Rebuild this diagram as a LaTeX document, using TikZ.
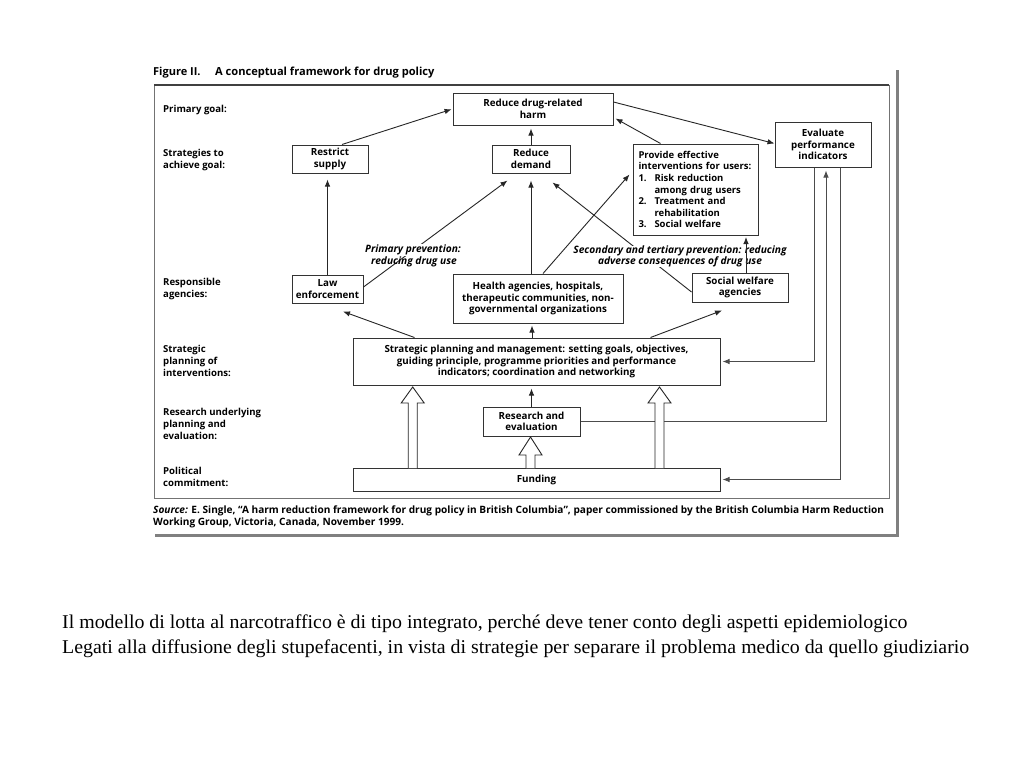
\documentclass[tikz,border=0pt]{standalone}
\usepackage{fontspec}
\setmainfont{Liberation Serif}
\newfontfamily\dfont{Open Sans}
\usetikzlibrary{arrows.meta,calc}
\newcommand\hollowup[4]{%
  \draw[line width=0.9pt,draw=black!85,fill=white] (#1-4.5,#2) -- (#1-4.5,#3) -- (#1-11.5,#3) -- (#1,#4) -- (#1+11.5,#3) -- (#1+4.5,#3) -- (#1+4.5,#2);}
\begin{document}
\begin{tikzpicture}[x=1pt,y=-1pt,
  dtext/.style={font=\dfont\bfseries\fontsize{9.8}{11.6}\selectfont},
  box/.style={dtext,draw=black!80,line width=1pt,inner sep=0pt,align=center},
  conn/.style={draw=black!85,line width=0.9pt,-{Latex[length=7pt,width=5.5pt]}},
  fb/.style={draw=black!70,line width=0.9pt,-{Latex[length=7pt,width=5.5pt]}},
  lbl/.style={font=\dfont\bfseries\fontsize{9.6}{11.6}\selectfont,anchor=west,align=left,inner sep=0pt},
  ital/.style={font=\dfont\bfseries\itshape\fontsize{10.2}{11.6}\selectfont,inner sep=0.5pt},
]
\useasboundingbox (0,0) rectangle (1024,768);
\fill[white] (0,0) rectangle (1024,768);

% frame and shadow
\draw[black!55,line width=0.8pt] (154,85) rectangle (889,498);
\draw[black!75,line width=1.6pt] (154,85) -- (889,85);
\draw[black!50,line width=3pt] (897,70) -- (897,535.5) -- (155,535.5);

% title
\node[anchor=west,inner sep=0pt,font=\dfont\bfseries\fontsize{11}{12}\selectfont] (fig) at (153,73) {Figure II.};
\node[anchor=west,inner sep=0pt,font=\dfont\bfseries\fontsize{11.1}{12}\selectfont] (title) at (215,73) {A conceptual framework for drug policy};

% row labels
\node[lbl] (l1) at (163,110) {Primary goal:};
\node[lbl] (l2) at (163,160) {Strategies to\\achieve goal:};
\node[lbl] (l3) at (163,289) {Responsible\\agencies:};
\node[lbl] (l4) at (163,361) {Strategic\\planning of\\interventions:};
\node[lbl] (l5) at (163,424) {Research underlying\\planning and\\evaluation:};
\node[lbl] (l6) at (163,477) {Political\\commitment:};

% boxes
\node[box,minimum width=160pt,minimum height=32pt] (harm) at (533,109) {Reduce drug-related\\harm};
\node[box,minimum width=76pt,minimum height=28pt] (supply) at (330,159) {Restrict\\supply};
\node[box,minimum width=78pt,minimum height=28pt] (demand) at (531,159) {Reduce\\demand};
\node[box,minimum width=125pt,minimum height=91pt,align=left,text width=114pt,font=\dfont\bfseries\fontsize{9.5}{11.6}\selectfont] (provide) at (695.5,189.5) {\mbox{Provide effective}\\\mbox{interventions for users:}\\\makebox[16pt][l]{1.}Risk reduction\\\hspace*{16pt}among drug users\\\makebox[16pt][l]{2.}Treatment and\\\hspace*{16pt}rehabilitation\\\makebox[16pt][l]{3.}Social welfare};
\node[box,minimum width=96pt,minimum height=45pt] (evaluate) at (823,144.5) {Evaluate\\performance\\indicators};
\node[box,minimum width=71pt,minimum height=28pt] (law) at (327.5,289) {Law\\enforcement};
\node[box,minimum width=170pt,minimum height=49pt] (health) at (538,298.5) {Health agencies, hospitals,\\therapeutic communities, non-\\governmental organizations};
\node[box,minimum width=96pt,minimum height=29pt] (social) at (740,287.5) {Social welfare\\agencies};
\node[box,minimum width=367pt,minimum height=47pt] (strategic) at (536.5,361.5) {Strategic planning and management: setting goals, objectives,\\guiding principle, programme priorities and performance\\indicators; coordination and networking};
\node[box,minimum width=97pt,minimum height=29pt] (research) at (531.5,421.5) {Research and\\evaluation};
\node[box,minimum width=367pt,minimum height=23pt] (funding) at (536.5,479.5) {Funding};

% helper coordinates
\coordinate (sw1) at ($(social.north)+(6,0)$);
\coordinate (st1) at ($(strategic.north)+(-4.5,0)$);
\coordinate (ev1) at ($(evaluate.south)+(3,0)$);
\coordinate (ev2) at ($(evaluate.south)+(-9,0)$);
\coordinate (ev3) at ($(evaluate.south)+(17,0)$);

% connectors to the goal
\draw[conn,shorten >=1pt] ($(supply.north)+(12,0)$) -- (harm.west);
\draw[conn,shorten >=3pt] (demand.north) -- (demand.north |- harm.south);
\draw[conn] ($(provide.north)+(-35,0)$) -- ($(harm.south east)+(2,-7)$);
\draw[conn] ($(harm.east)+(0,-7)$) -- ($(evaluate.west)+(0,-1)$);

% connectors to strategies
\draw[conn,shorten >=6pt] (law.north) -- (law.north |- supply.south);
\draw[conn] ($(law.east)+(0,-2)$) -- ($(demand.south west)+(16,7)$);
\draw[conn] ($(health.north)+(-7,0)$) -- ($(demand.south)+(0,7)$);
\draw[conn] ($(health.north)+(5,0)$) -- ($(provide.north west)+(-3,31)$);
\draw[conn] ($(social.west)+(0,4.5)$) -- ($(demand.south east)+(-18,9)$);

% prevention labels
\node[ital,fill=white] (pp1) at (413,250) {Primary prevention:};
\node[ital] (pp2) at (414,262) {reducing drug use};
\node[ital,fill=white,align=center,inner sep=0pt] (sp) at (680,256.5) {Secondary and tertiary prevention: reducing\\adverse consequences of drug use};

\draw[conn,shorten >=1.5pt] (sw1) -- (sw1 |- provide.south);

% from strategic planning
\draw[conn] ($(strategic.north west)+(62,0)$) -- ($(law.south)+(15.5,8)$);
\draw[conn] ($(strategic.north east)+(-70,0)$) -- ($(social.south)+(-18,8)$);
\draw[conn,shorten >=2pt] (st1) -- (st1 |- health.south);
\draw[conn,shorten >=3pt] (research.north) -- (research.north |- strategic.south);

% feedback loops
\draw[fb,shorten >=3pt] (research.east) -- (ev1 |- research.east) -- (ev1);
\draw[fb,shorten >=2pt] (ev2) -- (ev2 |- strategic.east) -- (strategic.east);
\draw[fb,shorten >=2pt] (ev3) -- (ev3 |- funding.east) -- (funding.east);

% hollow arrows from funding
\hollowup{412.7}{468}{403}{387}
\hollowup{530.5}{468}{455}{437}
\hollowup{659.5}{468}{403}{387}

% source
\node[anchor=west,inner sep=0pt,font=\dfont\bfseries\fontsize{10.1}{11}\selectfont] (src1) at (153,511) {\textit{Source:} E. Single, “A harm reduction framework for drug policy in British Columbia”, paper commissioned by the British Columbia Harm Reduction};
\node[anchor=west,inner sep=0pt,font=\dfont\bfseries\fontsize{10.1}{11}\selectfont] (src2) at (153,523) {Working Group, Victoria, Canada, November 1999.};

% caption below
\node[anchor=base west,inner sep=0pt,font=\fontsize{19.5}{23}\selectfont] (cap1) at (62,628) {\scalebox{1.02}[1]{Il modello di lotta al narcotraffico è di tipo integrato, perché deve tener conto degli aspetti epidemiologico}};
\node[anchor=base west,inner sep=0pt,font=\fontsize{19.5}{23}\selectfont] (cap2) at (62,653) {\scalebox{1.02}[1]{Legati alla diffusione degli stupefacenti, in vista di strategie per separare il problema medico da quello giudiziario}};
\end{tikzpicture}
\end{document}
